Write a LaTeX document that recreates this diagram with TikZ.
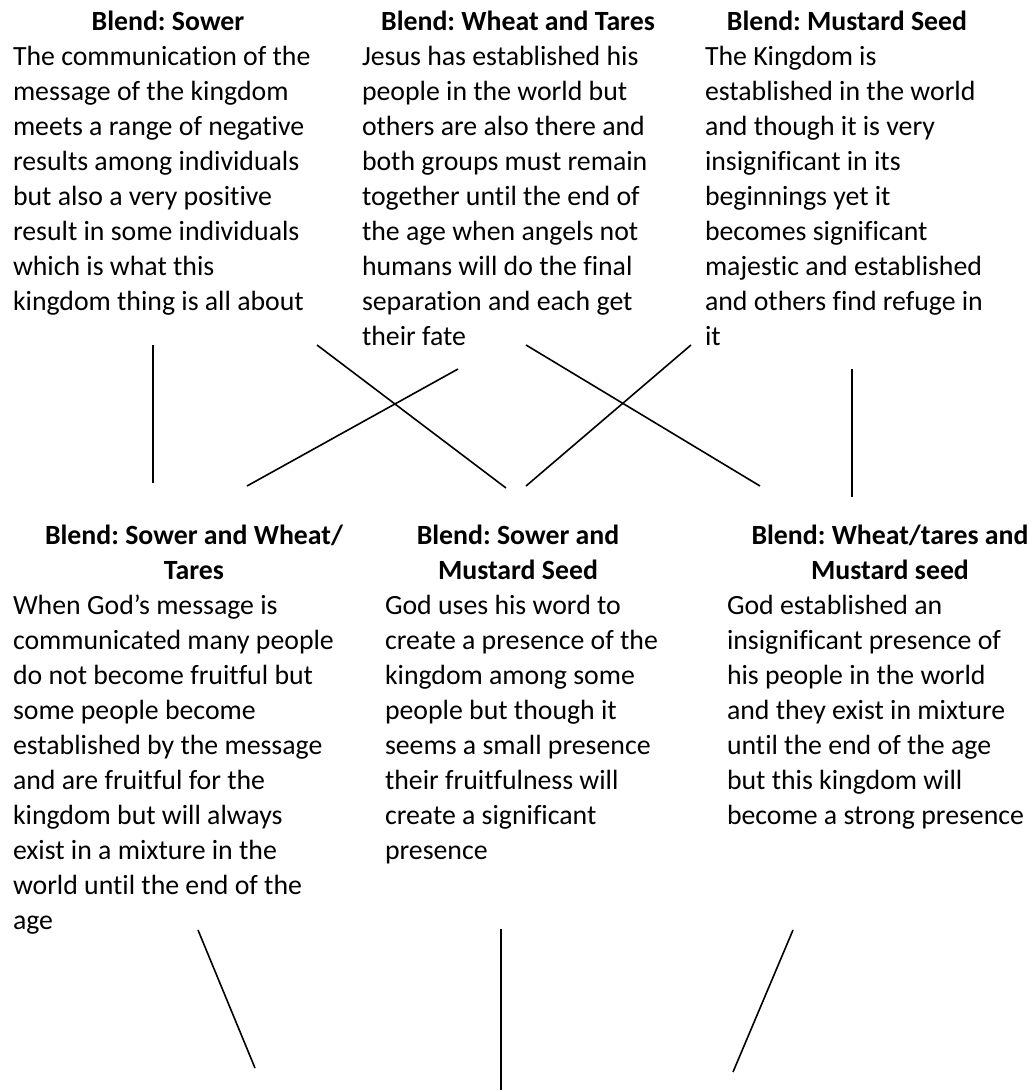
\documentclass[tikz,border=0pt]{standalone}
\usepackage{fontspec}
\setmainfont{Carlito}[Ligatures=NoCommon]
\frenchspacing
\begin{document}
\begin{tikzpicture}[x=1pt,y=-1pt,
  every node/.style={inner sep=0pt, outer sep=0pt,
    font=\fontsize{27.8}{35}\selectfont},
  head/.style={anchor=north, align=center, font=\fontsize{27.8}{35}\selectfont\bfseries},
  body/.style={anchor=north west, align=left},
  link/.style={line width=1.6pt}]
\useasboundingbox (0,0) rectangle (1036,1090);
\fill[white] (0,0) rectangle (1036,1090);
\newcommand\firstline{\rule{0pt}{23pt}}

% ---- single blends (top row) ----
\node[head] (sowerHead) at (168,7) {\firstline Blend: Sower};
\node[body] (sower) at (13,42) {\firstline The communication of the\\
message of the kingdom\\
meets a range of negative\\
results among individuals\\
but also a very positive\\
result in some individuals\\
which is what this\\
kingdom thing is all about};

\node[head] (wheatHead) at (518,7) {\firstline Blend: Wheat and Tares};
\node[body] (wheat) at (362,42) {\firstline Jesus has established his\\
people in the world but\\
others are also there and\\
both groups must remain\\
together until the end of\\
the age when angels not\\
humans will do the final\\
separation and each get\\
their fate};

\node[head] (mustardHead) at (847,7) {\firstline Blend: Mustard Seed};
\node[body] (mustard) at (705,42) {\firstline The Kingdom is\\
established in the world\\
and though it is very\\
insignificant in its\\
beginnings yet it\\
becomes significant\\
majestic and established\\
and others find refuge in\\
it};

% ---- combined blends (bottom row) ----
\node[head] (sowwheatHead) at (194,521) {\firstline Blend: Sower and Wheat/\\Tares};
\node[body] (sowwheat) at (13,591) {\firstline When God’s message is\\
communicated many people\\
do not become fruitful but\\
some people become\\
established by the message\\
and are fruitful for the\\
kingdom but will always\\
exist in a mixture in the\\
world until the end of the\\
age};

\node[head] (sowmustHead) at (518,521) {\firstline Blend: Sower and\\Mustard Seed};
\node[body] (sowmust) at (385,591) {\firstline God uses his word to\\
create a presence of the\\
kingdom among some\\
people but though it\\
seems a small presence\\
their fruitfulness will\\
create a significant\\
presence};

\node[head] (wheatmustHead) at (890,521) {\firstline Blend: Wheat/tares and\\Mustard seed};
\node[body] (wheatmust) at (727,591) {\firstline God established an\\
insignificant presence of\\
his people in the world\\
and they exist in mixture\\
until the end of the age\\
but this kingdom will\\
become a strong presence};

% ---- connector end points ----
\coordinate (sowerOut)     at (153,345);
\coordinate (sowwheatIn)   at (153,483);
\coordinate (wheatOutA)    at (317,345);
\coordinate (sowmustInA)   at (506,488);
\coordinate (wheatOutB)    at (458,369);
\coordinate (sowwheatInB)  at (247,486);
\coordinate (wheatOutC)    at (526,345);
\coordinate (wheatmustIn)  at (760,486);
\coordinate (mustardOutA)  at (691,345);
\coordinate (sowmustInB)   at (526,486);
\coordinate (mustardOutB)  at (852,369);
\coordinate (wheatmustInB) at (852,497);
\coordinate (sowwheatOut)  at (198,930);
\coordinate (sowwheatEnd)  at (255,1068);
\coordinate (sowmustOut)   at (501,929);
\coordinate (sowmustEnd)   at (501,1090);
\coordinate (wheatmustOut) at (793,930);
\coordinate (wheatmustEnd) at (733,1072);

% ---- connectors ----
\draw[link] (sowerOut) -- (sowwheatIn);
\draw[link] (wheatOutA) -- (sowmustInA);
\draw[link] (wheatOutB) -- (sowwheatInB);
\draw[link] (wheatOutC) -- (wheatmustIn);
\draw[link] (mustardOutA) -- (sowmustInB);
\draw[link] (mustardOutB) -- (wheatmustInB);
\draw[link] (sowwheatOut) -- (sowwheatEnd);
\draw[link] (sowmustOut) -- (sowmustEnd);
\draw[link] (wheatmustOut) -- (wheatmustEnd);
\end{tikzpicture}
\end{document}
